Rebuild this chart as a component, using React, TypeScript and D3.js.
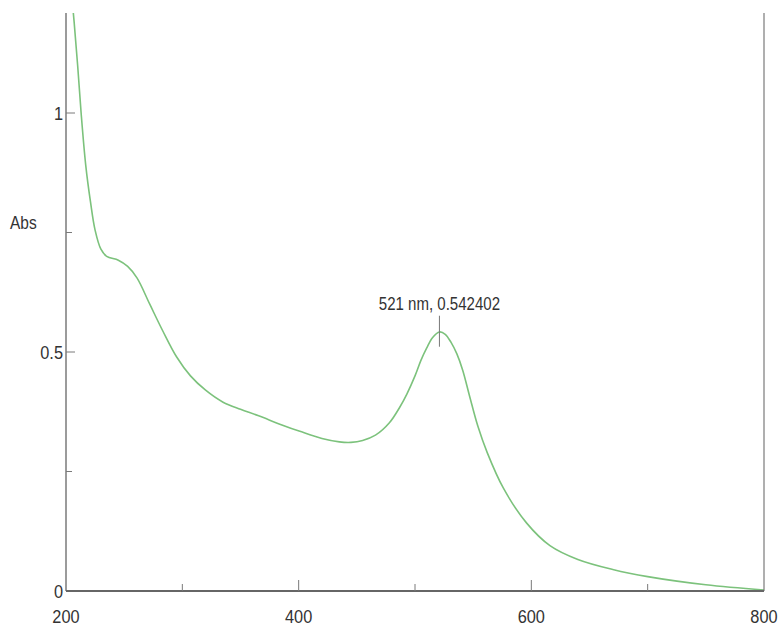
import React, { useRef, useEffect } from 'react';
import * as d3 from 'd3';

// spectrum (nm, Abs)
const wavelengths = [204, 207, 210, 213, 217, 221, 225, 230, 235, 245, 253, 261, 272, 283, 295, 307, 320, 335, 350, 365, 385, 401, 420, 435, 445, 455, 466, 478, 487, 493, 500, 505, 510, 515, 521, 526, 531, 536, 541, 547, 554, 562, 576, 596, 616, 640, 670, 700, 750, 800];
const absorbance = [1.27, 1.19, 1.1, 1.0, 0.89, 0.815, 0.755, 0.715, 0.7, 0.692, 0.679, 0.655, 0.6, 0.545, 0.49, 0.45, 0.42, 0.395, 0.38, 0.367, 0.348, 0.334, 0.319, 0.312, 0.311, 0.315, 0.326, 0.352, 0.385, 0.412, 0.45, 0.482, 0.508, 0.53, 0.542, 0.537, 0.52, 0.496, 0.462, 0.407, 0.345, 0.29, 0.215, 0.142, 0.095, 0.066, 0.045, 0.03, 0.013, 0.002];

const xMajor = [200, 400, 600, 800];
const xMinor = [300, 500, 700];
const yMajor = [0, 0.5, 1];
const yMinor = [0.25, 0.75];

const peak = { nm: 521, abs: 0.542402 };

const W = 779;
const H = 630;
const margin = { top: 13, right: 15, bottom: 39, left: 66 };

const App = () => {
  const svgRef = useRef<SVGSVGElement | null>(null);

  useEffect(() => {
    if (!svgRef.current) return;
    const svg = d3.select(svgRef.current);
    svg.selectAll('*').remove();

    const x = d3.scaleLinear().domain([200, 800]).range([margin.left, W - margin.right]);
    const y = d3.scaleLinear().domain([0, 1]).range([H - margin.bottom, H - margin.bottom - 478]);
    const top = margin.top;
    const bottom = y(0);
    const axisColor = '#7a7a7a';
    const font = '"Liberation Sans", Arial, sans-serif';
    const squeeze = (cx: number) => `translate(${cx},0) scale(0.86,1) translate(${-cx},0)`;

    const clip = svg.append('clipPath').attr('id', 'plot');
    clip.append('rect').attr('x', x(200)).attr('y', top).attr('width', x(800) - x(200)).attr('height', bottom - top);

    const pts = wavelengths.map((w, i) => [w, absorbance[i]] as [number, number]);
    const line = d3.line<[number, number]>()
      .x(d => x(d[0]))
      .y(d => y(d[1]))
      .curve(d3.curveCatmullRom.alpha(0.5));

    svg.append('path')
      .attr('d', line(pts))
      .attr('fill', 'none')
      .attr('stroke', '#7cc27c')
      .attr('stroke-width', 1.6)
      .attr('clip-path', 'url(#plot)');

    // axes frame
    svg.append('line').attr('x1', x(200)).attr('x2', x(200)).attr('y1', top).attr('y2', bottom)
      .attr('stroke', axisColor).attr('stroke-width', 1.5);
    svg.append('line').attr('x1', x(800)).attr('x2', x(800)).attr('y1', top).attr('y2', bottom)
      .attr('stroke', axisColor).attr('stroke-width', 1.2);
    svg.append('line').attr('x1', x(200)).attr('x2', x(800)).attr('y1', bottom).attr('y2', bottom)
      .attr('stroke', '#666').attr('stroke-width', 2);

    // x ticks
    xMajor.filter(v => v > 200 && v < 800).forEach(v => {
      svg.append('line').attr('x1', x(v)).attr('x2', x(v)).attr('y1', bottom).attr('y2', bottom - 11)
        .attr('stroke', axisColor).attr('stroke-width', 1);
    });
    xMinor.forEach(v => {
      svg.append('line').attr('x1', x(v)).attr('x2', x(v)).attr('y1', bottom).attr('y2', bottom - 7)
        .attr('stroke', axisColor).attr('stroke-width', 1);
    });
    xMajor.forEach(v => {
      svg.append('text').attr('x', x(v)).attr('y', bottom + 32)
        .attr('text-anchor', 'middle').attr('font-family', font).attr('font-size', 19)
        .attr('fill', '#333').attr('transform', squeeze(x(v)))
        .text(v);
    });

    // y ticks
    yMajor.filter(v => v > 0).forEach(v => {
      svg.append('line').attr('x1', x(200)).attr('x2', x(200) + 9).attr('y1', y(v)).attr('y2', y(v))
        .attr('stroke', axisColor).attr('stroke-width', 1);
    });
    yMinor.forEach(v => {
      svg.append('line').attr('x1', x(200)).attr('x2', x(200) + 6).attr('y1', y(v)).attr('y2', y(v))
        .attr('stroke', axisColor).attr('stroke-width', 1);
    });
    yMajor.forEach(v => {
      svg.append('text').attr('x', x(200) - 3).attr('y', y(v) + 7)
        .attr('text-anchor', 'end').attr('font-family', font).attr('font-size', 19)
        .attr('fill', '#333').attr('transform', squeeze(x(200) - 3))
        .text(v);
    });

    svg.append('text').attr('x', 10).attr('y', 229)
      .attr('font-family', font).attr('font-size', 18).attr('fill', '#333')
      .attr('transform', squeeze(10))
      .text('Abs');

    // peak marker
    const px = x(peak.nm);
    const py = y(peak.abs);
    svg.append('line').attr('x1', px).attr('x2', px).attr('y1', py - 16).attr('y2', py + 15)
      .attr('stroke', '#777').attr('stroke-width', 1);
    svg.append('text').attr('x', px).attr('y', py - 22)
      .attr('text-anchor', 'middle').attr('font-family', font).attr('font-size', 17.5).attr('fill', '#333')
      .attr('transform', squeeze(px))
      .text(`${peak.nm} nm, ${peak.abs}`);
  }, []);

  return (
    <svg ref={svgRef} width={W} height={H} style={{ position: 'absolute', left: 0, top: 0, background: '#fff' }} />
  );
};

export default App;
